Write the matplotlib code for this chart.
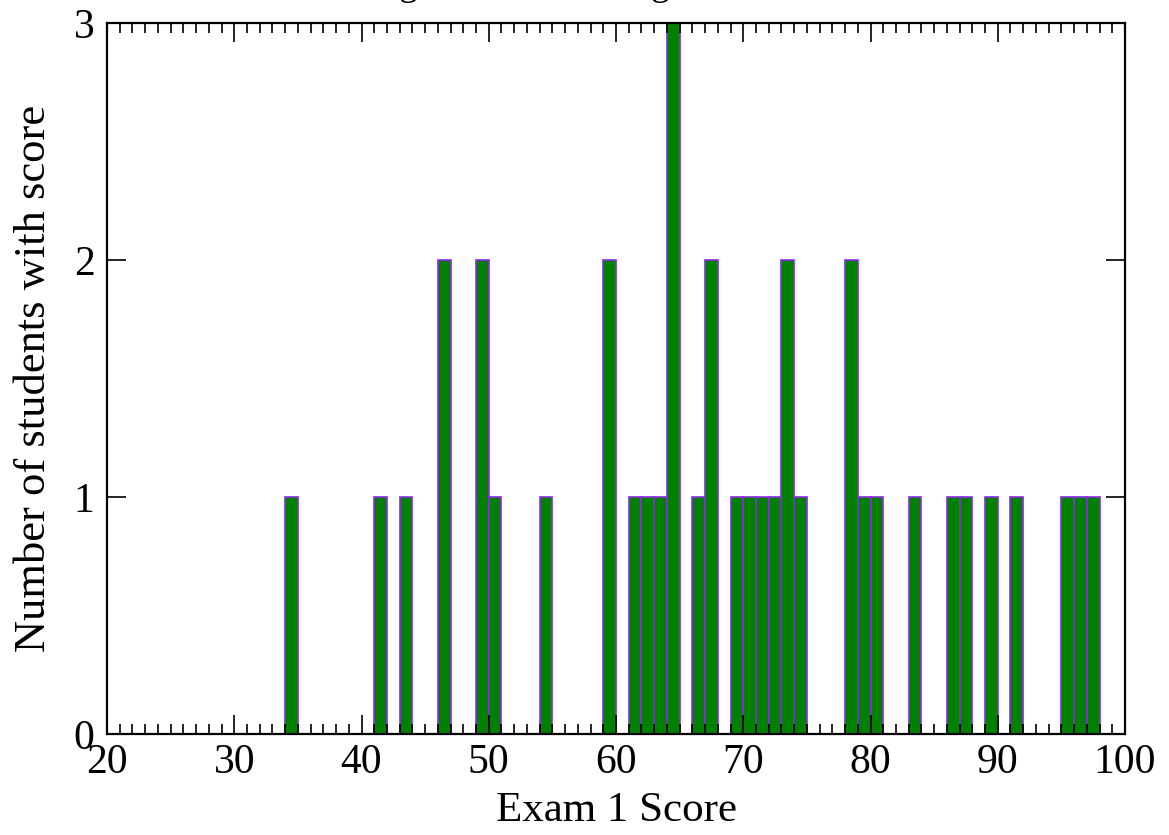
import numpy as np
import matplotlib
matplotlib.use("Agg")
import matplotlib.pyplot as plt
from matplotlib.ticker import MultipleLocator

# exam 1 scores (one entry per student)
scores = [34, 41, 43, 46, 46, 49, 49, 50, 54, 59, 59,
          61, 62, 63, 64, 64, 64, 66, 67, 67,
          69, 70, 71, 72, 73, 73, 74,
          78, 78, 79, 80, 83, 86, 87, 89, 91, 95, 96, 97]
bin_edges = list(range(20, 101))
title_text = "Histogram of Exam 1 grades"
x_label = "Exam 1 Score"
y_label = "Number of students with score"

plt.rcParams['font.family'] = ['Liberation Serif', 'DejaVu Serif']
plt.rcParams['font.size'] = 30

fig = plt.figure(figsize=(11.69, 8.35), dpi=100)
ax = fig.add_axes([107/1169, 1 - 734/835, (1125 - 107)/1169, (734 - 23)/835])

ax.hist(scores, bins=bin_edges, color='#008000', edgecolor='#8a2be2', linewidth=1.2)

ax.set_xlim(20, 100)
ax.set_ylim(0, 3)
ax.xaxis.set_major_locator(MultipleLocator(10))
ax.xaxis.set_minor_locator(MultipleLocator(1))
ax.yaxis.set_major_locator(MultipleLocator(1))
ax.tick_params(which='both', direction='in', top=True, right=True, width=1.2, pad=7,
               labelsize=30)
ax.tick_params(axis='x', which='major', length=14)
ax.tick_params(axis='x', which='minor', length=7)
ax.tick_params(axis='y', which='major', length=14, pad=9)
for sp in ax.spines.values():
    sp.set_linewidth(1.6)

ax.set_xlabel(x_label, fontsize=31, labelpad=7)
ax.set_ylabel(y_label, fontsize=32, labelpad=14)

# title sits mostly above the canvas, only the descenders show
fig.text(534/1169, 1 + 5/835, title_text, ha='center', va='baseline', fontsize=27)

fig.savefig("out.png", dpi=100)
